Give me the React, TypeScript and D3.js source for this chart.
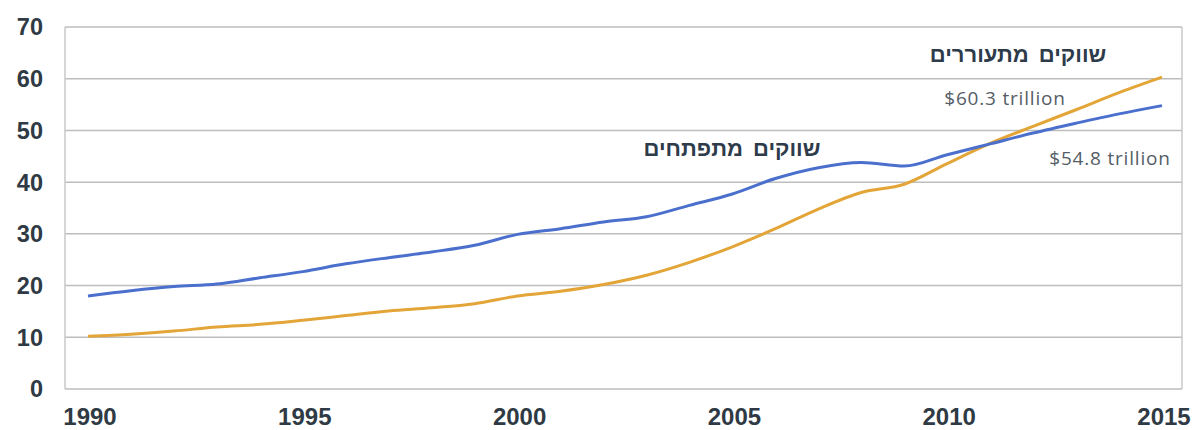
import React from "react";
import * as d3 from "d3";

const years = [1990,1991,1992,1993,1994,1995,1996,1997,1998,1999,2000,2001,2002,2003,2004,2005,2006,2007,2008,2009,2010,2011,2012,2013,2014,2015];
const developed = [18,19,19.8,20.3,21.5,22.7,24.2,25.4,26.5,27.8,29.9,31,32.3,33.3,35.5,37.7,40.7,42.8,43.8,43.1,45.3,47.4,49.5,51.4,53.2,54.8];
const emerging = [10.2,10.6,11.2,12,12.5,13.3,14.2,15.1,15.7,16.5,18,18.9,20.2,22,24.5,27.5,31,34.8,38,39.6,43.6,47.5,50.8,54,57.3,60.3];
const yTicks = [0,10,20,30,40,50,60,70];
const xTicks = [1990,1995,2000,2005,2010,2015];
const labelEmerging = "שווקים מתעוררים";
const labelDeveloped = "שווקים מתפתחים";
const valueEmerging = "$60.3 trillion";
const valueDeveloped = "$54.8 trillion";

const W = 1194, H = 430;
const plotLeft = 65, plotRight = 1182, plotTop = 27, plotBottom = 389;

export default function App() {
  const x = d3.scaleLinear().domain([1990, 2015]).range([88, 1162]);
  const y = d3.scaleLinear().domain([0, 70]).range([plotBottom, plotTop]);
  const line = d3.line<number>().x((_, i) => x(years[i])).y(d => y(d)).curve(d3.curveMonotoneX);
  const tickFont = "'Liberation Sans', Arial, sans-serif";
  return (
    <svg width={W} height={H} style={{ position: "absolute", left: 0, top: 0, background: "#fff" }}>
      {yTicks.map(t => (
        <line key={t} x1={plotLeft} x2={plotRight} y1={y(t)} y2={y(t)} stroke="#bdbdbd" strokeWidth={1.5} />
      ))}
      <line x1={plotLeft} x2={plotLeft} y1={plotTop} y2={plotBottom} stroke="#c8c8c8" strokeWidth={1.5} />
      <line x1={plotRight} x2={plotRight} y1={plotTop} y2={plotBottom} stroke="#c8c8c8" strokeWidth={1.5} />
      <path d={line(emerging) || ""} fill="none" stroke="#E3A537" strokeWidth={3} />
      <path d={line(developed) || ""} fill="none" stroke="#4A6FCC" strokeWidth={3} />
      {yTicks.map(t => (
        <text key={t} x={43} y={y(t)} dy="0.36em" textAnchor="end" fontFamily={tickFont} fontWeight="bold" fontSize={23.5} fill="#2f3a44">{t}</text>
      ))}
      {xTicks.map(t => (
        <text key={t} x={x(t) + 2} y={425} textAnchor="middle" fontFamily={tickFont} fontWeight="bold" fontSize={24} fill="#2f3a44">{t}</text>
      ))}
      <text x={1018} y={62} textAnchor="middle" fontFamily={tickFont} fontWeight="bold" fontSize={22} wordSpacing={4} fill="#2e3b4a" direction="rtl">{labelEmerging}</text>
      <text x={732} y={156} textAnchor="middle" fontFamily={tickFont} fontWeight="bold" fontSize={22} wordSpacing={4} fill="#2e3b4a" direction="rtl">{labelDeveloped}</text>
      <text x={1005} y={105} textAnchor="middle" fontFamily="'Open Sans', sans-serif" fontSize={19} letterSpacing={0.8} fill="#555d66">{valueEmerging}</text>
      <text x={1110} y={165} textAnchor="middle" fontFamily="'Open Sans', sans-serif" fontSize={19} letterSpacing={0.8} fill="#555d66">{valueDeveloped}</text>
    </svg>
  );
}
